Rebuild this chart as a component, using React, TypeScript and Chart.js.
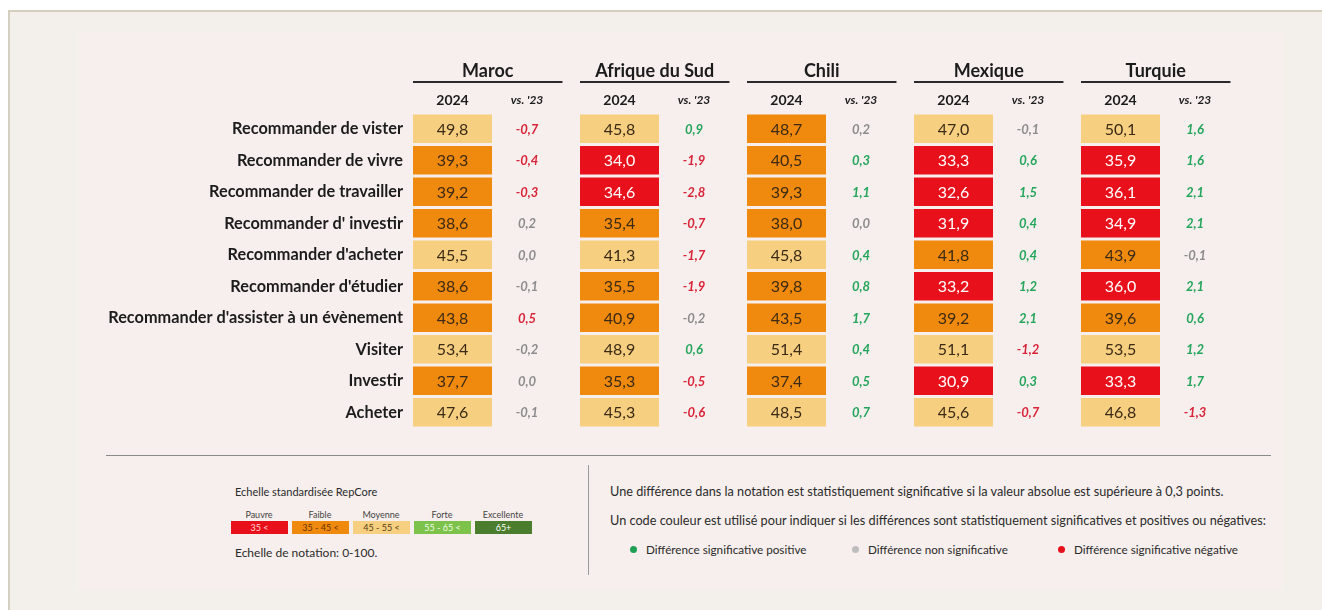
import React, { useEffect, useRef } from "react";
import { Chart, registerables } from "chart.js";

Chart.register(...registerables);

const rowLabels = [
  "Recommander de vister",
  "Recommander de vivre",
  "Recommander de travailler",
  "Recommander d' investir",
  "Recommander d'acheter",
  "Recommander d'étudier",
  "Recommander d'assister à un évènement",
  "Visiter",
  "Investir",
  "Acheter",
];

const countries = ["Maroc", "Afrique du Sud", "Chili", "Mexique", "Turquie"];

const maroc2024 = [49.8, 39.3, 39.2, 38.6, 45.5, 38.6, 43.8, 53.4, 37.7, 47.6];
const marocVs = [-0.7, -0.4, -0.3, 0.2, 0.0, -0.1, 0.5, -0.2, 0.0, -0.1];
const marocBand = ["M", "F", "F", "F", "M", "F", "F", "M", "F", "M"];
const marocSig = ["n", "n", "n", "g", "g", "g", "n", "g", "g", "g"];

const afrique2024 = [45.8, 34.0, 34.6, 35.4, 41.3, 35.5, 40.9, 48.9, 35.3, 45.3];
const afriqueVs = [0.9, -1.9, -2.8, -0.7, -1.7, -1.9, -0.2, 0.6, -0.5, -0.6];
const afriqueBand = ["M", "P", "P", "F", "M", "F", "F", "M", "F", "M"];
const afriqueSig = ["p", "n", "n", "n", "n", "n", "g", "p", "n", "n"];

const chili2024 = [48.7, 40.5, 39.3, 38.0, 45.8, 39.8, 43.5, 51.4, 37.4, 48.5];
const chiliVs = [0.2, 0.3, 1.1, 0.0, 0.4, 0.8, 1.7, 0.4, 0.5, 0.7];
const chiliBand = ["F", "F", "F", "F", "M", "F", "F", "M", "F", "M"];
const chiliSig = ["g", "p", "p", "g", "p", "p", "p", "p", "p", "p"];

const mexique2024 = [47.0, 33.3, 32.6, 31.9, 41.8, 33.2, 39.2, 51.1, 30.9, 45.6];
const mexiqueVs = [-0.1, 0.6, 1.5, 0.4, 0.4, 1.2, 2.1, -1.2, 0.3, -0.7];
const mexiqueBand = ["M", "P", "P", "P", "F", "P", "F", "M", "P", "M"];
const mexiqueSig = ["g", "p", "p", "p", "p", "p", "p", "n", "p", "n"];

const turquie2024 = [50.1, 35.9, 36.1, 34.9, 43.9, 36.0, 39.6, 53.5, 33.3, 46.8];
const turquieVs = [1.6, 1.6, 2.1, 2.1, -0.1, 2.1, 0.6, 1.2, 1.7, -1.3];
const turquieBand = ["M", "P", "P", "P", "F", "P", "F", "M", "P", "M"];
const turquieSig = ["p", "p", "p", "p", "g", "p", "p", "p", "p", "n"];

const scaleLabels = ["Pauvre", "Faible", "Moyenne", "Forte", "Excellente"];
const scaleRanges = ["35 <", "35 - 45 <", "45 - 55 <", "55 - 65 <", "65+"];

const values2024 = [maroc2024, afrique2024, chili2024, mexique2024, turquie2024];
const valuesVs = [marocVs, afriqueVs, chiliVs, mexiqueVs, turquieVs];
const bands = [marocBand, afriqueBand, chiliBand, mexiqueBand, turquieBand];
const sigs = [marocSig, afriqueSig, chiliSig, mexiqueSig, turquieSig];

// styles
const FONT = "Lato, 'Noto Sans', sans-serif";
const BAND_COLORS: Record<string, string> = { P: "#e8101b", F: "#f08a0e", M: "#f6cf80" };
const BAND_TEXT: Record<string, string> = { P: "#ffffff", F: "#3b2a16", M: "#3b2a16" };
const SIG_COLORS: Record<string, string> = { p: "#25a55c", n: "#d9253a", g: "#8c8c8c" };
const CELL_W = 0.473;
const VS_X = 0.683;
const GROUP_W = 0.895;

const fmt = (v: number) => {
  const s = Math.abs(v).toFixed(1).replace(".", ",");
  return (v < 0 ? "-" : "") + s;
};

const textPlugin = {
  id: "tableText",
  afterDatasetsDraw(chart: any) {
    const ctx = chart.ctx;
    const xs = chart.scales.x;
    const top = chart.chartArea.top;
    ctx.save();
    ctx.textAlign = "center";
    ctx.textBaseline = "middle";
    countries.forEach((name, c) => {
      const x0 = xs.getPixelForValue(c);
      const x1 = xs.getPixelForValue(c + GROUP_W);
      ctx.fillStyle = "#1c1c1c";
      ctx.font = `bold 18px ${FONT}`;
      ctx.fillText(name, (x0 + x1) / 2, top - 42);
      ctx.strokeStyle = "#2a2a2a";
      ctx.lineWidth = 2;
      ctx.beginPath();
      ctx.moveTo(x0, top - 31);
      ctx.lineTo(x1, top - 31);
      ctx.stroke();
      ctx.font = `bold 14px ${FONT}`;
      ctx.fillText("2024", xs.getPixelForValue(c + CELL_W / 2), top - 13);
      ctx.font = `italic bold 12px ${FONT}`;
      ctx.fillText("vs. '23", xs.getPixelForValue(c + VS_X), top - 13);

      const meta = chart.getDatasetMeta(c);
      meta.data.forEach((bar: any, i: number) => {
        ctx.font = `16px ${FONT}`;
        ctx.fillStyle = BAND_TEXT[bands[c][i]];
        ctx.fillText(fmt(values2024[c][i]), bar.x - (bar.x - bar.base) / 2, bar.y + 1);
        ctx.font = `italic bold 13px ${FONT}`;
        ctx.fillStyle = SIG_COLORS[sigs[c][i]];
        ctx.fillText(fmt(valuesVs[c][i]), xs.getPixelForValue(c + VS_X), bar.y + 1);
      });
    });
    ctx.restore();
  },
};

function TableChart() {
  const ref = useRef<HTMLCanvasElement>(null);
  useEffect(() => {
    const chart = new Chart(ref.current!, {
      type: "bar",
      data: {
        labels: rowLabels,
        datasets: countries.map((name, c) => ({
          label: name,
          data: values2024[c].map(() => [c, c + CELL_W]),
          backgroundColor: bands[c].map((b) => BAND_COLORS[b]),
          borderWidth: 0,
          barPercentage: 0.9,
          categoryPercentage: 1.0,
          grouped: false,
        })) as any,
      },
      options: {
        indexAxis: "y",
        animation: false,
        responsive: true,
        maintainAspectRatio: false,
        events: [],
        layout: { padding: { top: 113, right: 74, bottom: 22, left: 0 } },
        plugins: { legend: { display: false }, tooltip: { enabled: false } },
        scales: {
          x: { type: "linear", min: 0, max: 5, display: false },
          y: {
            type: "category",
            grid: { display: false, drawTicks: false },
            border: { display: false },
            ticks: {
              padding: 10,
              color: "#1c1c1c",
              font: { family: FONT, size: 16.3, weight: "bold" },
            },
            afterFit(scale: any) {
              scale.width = 413;
            },
          },
        },
      } as any,
      plugins: [textPlugin],
    });
    return () => chart.destroy();
  }, []);
  return (
    <div style={{ position: "absolute", left: 0, top: 0, width: 1322, height: 450 }}>
      <canvas ref={ref} />
    </div>
  );
}

const T = (props: { x: number; y: number; size: number; children: any; color?: string; center?: boolean; bold?: boolean }) => (
  <div
    style={{
      position: "absolute",
      left: props.x,
      top: props.y,
      transform: props.center ? "translate(-50%, -50%)" : "translateY(-50%)",
      fontSize: props.size,
      lineHeight: 1,
      whiteSpace: "nowrap",
      color: props.color || "#2b2b2b",
      fontFamily: FONT,
      fontWeight: props.bold ? 700 : 400,
    }}
  >
    {props.children}
  </div>
);

const swatchBg = ["#e8101b", "#f08a0e", "#f6cf80", "#7cc24b", "#4a7d2d"];
const swatchFg = ["#ffd9d9", "#6b3300", "#5a3c10", "#f2ffe8", "#ffffff"];

export default function App() {
  useEffect(() => {
    document.body.style.margin = "0";
    document.body.style.overflow = "hidden";
  }, []);
  return (
    <div style={{ position: "relative", width: 1322, height: 610, overflow: "hidden", fontFamily: FONT }}>
      <div
        style={{
          position: "absolute",
          left: 8,
          top: 10,
          width: 1314,
          height: 600,
          background: "#f3efeb",
          borderLeft: "2px solid #d4cfc0",
          borderTop: "2px solid #d4cfc0",
          boxSizing: "border-box",
        }}
      />
      <div style={{ position: "absolute", left: 78, top: 33, width: 1205, height: 557, background: "#f7efed" }} />
      <TableChart />
      <div style={{ position: "absolute", left: 106, top: 455, width: 1165, height: 1, background: "#8a8a8a" }} />
      <div style={{ position: "absolute", left: 588, top: 465, width: 1, height: 110, background: "#9a9a9a" }} />

      <T x={235} y={491} size={11}>Echelle standardisée RepCore</T>
      {scaleLabels.map((l, i) => (
        <T key={l} x={259 + i * 61} y={514} size={9} center color="#444">
          {l}
        </T>
      ))}
      {scaleRanges.map((r, i) => (
        <div
          key={r}
          style={{
            position: "absolute",
            left: 231 + i * 61,
            top: 521,
            width: 57,
            height: 13,
            background: swatchBg[i],
            color: swatchFg[i],
            fontSize: 9,
            lineHeight: "13px",
            textAlign: "center",
            fontFamily: FONT,
          }}
        >
          {r}
        </div>
      ))}
      <T x={235} y={553} size={12}>Echelle de notation: 0-100.</T>

      <T x={610} y={491} size={12.7}>
        Une différence dans la notation est statistiquement significative si la valeur absolue est supérieure à 0,3 points.
      </T>
      <T x={610} y={520} size={12.7}>
        Un code couleur est utilisé pour indiquer si les différences sont statistiquement significatives et positives ou négatives:
      </T>
      {[
        { x: 633, c: "#1fa055", t: "Différence significative positive" },
        { x: 855, c: "#bdbdbd", t: "Différence non significative" },
        { x: 1061, c: "#e8101b", t: "Différence significative négative" },
      ].map((d) => (
        <React.Fragment key={d.t}>
          <div
            style={{
              position: "absolute",
              left: d.x - 3.5,
              top: 546,
              width: 7,
              height: 7,
              borderRadius: "50%",
              background: d.c,
            }}
          />
          <T x={d.x + 13} y={550} size={11.7}>
            {d.t}
          </T>
        </React.Fragment>
      ))}
    </div>
  );
}
